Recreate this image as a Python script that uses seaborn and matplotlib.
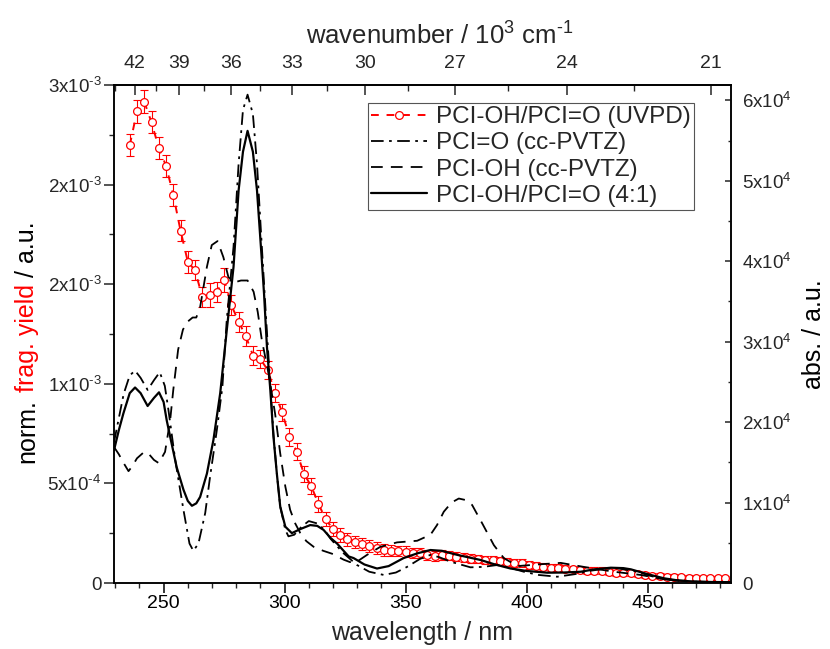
import numpy as np
import pandas as pd
import matplotlib
matplotlib.use("Agg")
import matplotlib.pyplot as plt
import seaborn as sns
from matplotlib.ticker import FixedLocator, MultipleLocator

# ---------------- data ----------------
wl_uvpd = [236, 239, 242, 245, 248, 251, 254, 257, 260, 263,
           266, 269, 272, 275, 278, 281, 284, 287, 290, 293,
           296, 299, 302, 305, 308, 311, 314, 317, 320, 323,
           326, 329, 332, 335, 338, 341, 344, 347, 350, 353,
           356, 359, 362, 365, 368, 371, 374, 377, 380, 383,
           386, 389, 392, 395, 398, 401, 404, 407, 410, 413,
           416, 419, 422, 425, 428, 431, 434, 437, 440, 443,
           446, 449, 452, 455, 458, 461, 464, 467, 470, 473,
           476, 479, 482]
yield_uvpd = [2.197, 2.368, 2.416, 2.313, 2.184, 2.095, 1.948, 1.769, 1.613, 1.569,
              1.436, 1.446, 1.462, 1.523, 1.395, 1.312, 1.238, 1.141, 1.124, 1.070,
              0.956, 0.856, 0.735, 0.660, 0.548, 0.487, 0.397, 0.320, 0.270, 0.241,
              0.220, 0.208, 0.196, 0.186, 0.174, 0.166, 0.162, 0.161, 0.157, 0.152,
              0.149, 0.141, 0.137, 0.141, 0.137, 0.132, 0.127, 0.121, 0.121, 0.116,
              0.116, 0.112, 0.107, 0.102, 0.099, 0.090, 0.087, 0.082, 0.077, 0.077,
              0.072, 0.070, 0.065, 0.062, 0.062, 0.062, 0.057, 0.052, 0.052, 0.049,
              0.045, 0.040, 0.037, 0.035, 0.032, 0.032, 0.029, 0.027, 0.025, 0.024,
              0.024, 0.024, 0.024]  # x 1e-3
yield_err = [0.055, 0.058, 0.058, 0.055, 0.055, 0.055, 0.055, 0.052, 0.055, 0.050,
             0.050, 0.060, 0.050, 0.060, 0.050, 0.050, 0.050, 0.048, 0.045, 0.045,
             0.045, 0.045, 0.045, 0.045, 0.040, 0.040, 0.040, 0.035, 0.035, 0.035,
             0.033, 0.030, 0.030, 0.030, 0.030, 0.028, 0.028, 0.027, 0.027, 0.025,
             0.025, 0.025, 0.025, 0.025, 0.024, 0.024, 0.023, 0.023, 0.022, 0.022,
             0.021, 0.021, 0.020, 0.020, 0.020, 0.019, 0.019, 0.018, 0.018, 0.018,
             0.017, 0.017, 0.017, 0.016, 0.016, 0.016, 0.015, 0.015, 0.015, 0.014,
             0.014, 0.014, 0.013, 0.013, 0.013, 0.012, 0.012, 0.012, 0.011, 0.011,
             0.011, 0.010, 0.010]  # x 1e-3

wl_pcio = [229.5, 231.5, 233.5, 236.0, 238.2, 240.5, 243.4, 246.0, 248.4, 250.5,
           252.0, 254.8, 258.2, 260.7, 262.3, 264.4, 267.2, 269.2, 272.0, 274.3,
           276.1, 278.9, 281.0, 282.8, 284.7, 286.9, 288.6, 290.6, 292.4, 294.1,
           295.4, 296.8, 298.2, 300.3, 301.6, 304.0, 307.0, 310.0, 313.5, 316.5,
           319.0, 324.0, 329.9, 335.0, 341.0, 346.0, 350.6, 356.0, 360.3, 364.0,
           368.6, 376.8, 382.0, 388.0, 393.0, 398.9, 405.0, 412.7, 420.0, 426.5,
           432.0, 437.6, 445.8, 451.0, 456.9, 463.0, 470.7, 484.5]
abs_pcio = [1.75, 2.05, 2.35, 2.58, 2.64, 2.55, 2.40, 2.52, 2.62, 2.45,
            2.15, 1.53, 0.91, 0.49, 0.40, 0.49, 0.87, 1.32, 1.90, 2.44,
            3.27, 4.18, 5.21, 5.88, 6.07, 5.83, 5.21, 4.18, 3.27, 2.45,
            1.85, 1.36, 0.95, 0.66, 0.58, 0.60, 0.70, 0.77, 0.74, 0.66,
            0.55, 0.38, 0.224, 0.14, 0.10, 0.13, 0.20, 0.30, 0.35, 0.32,
            0.265, 0.195, 0.20, 0.224, 0.19, 0.14, 0.10, 0.078, 0.11, 0.153,
            0.175, 0.183, 0.14, 0.09, 0.046, 0.025, 0.016, 0.01]  # x 1e4

wl_pcioh = [229.5, 231.5, 233.5, 235.5, 237.0, 239.0, 242.0, 244.0, 246.0, 248.0,
            250.6, 252.7, 254.0, 256.0, 258.0, 260.0, 262.0, 263.5, 265.1, 267.9,
            269.9, 272.3, 274.7, 276.8, 279.6, 282.0, 284.7, 287.2, 288.9, 290.6,
            293.4, 296.1, 298.2, 300.3, 302.3, 304.4, 306.5, 309.0, 312.0, 316.0,
            320.0, 324.4, 327.0, 329.9, 334.1, 339.6, 346.5, 354.8, 360.3, 363.0,
            365.8, 369.0, 372.0, 375.0, 377.5, 381.7, 386.5, 390.6, 396.2, 404.4,
            414.1, 423.7, 436.1, 447.2, 456.9, 470.7, 484.5]
abs_pcioh = [1.69, 1.60, 1.49, 1.39, 1.45, 1.55, 1.63, 1.60, 1.53, 1.49,
             1.63, 2.02, 2.40, 2.90, 3.15, 3.25, 3.30, 3.30, 3.43, 3.93,
             4.20, 4.25, 4.05, 3.80, 3.74, 3.76, 3.76, 3.62, 3.37, 3.02,
             2.60, 2.10, 1.61, 1.20, 0.91, 0.74, 0.62, 0.52, 0.45, 0.40,
             0.36, 0.29, 0.26, 0.265, 0.35, 0.45, 0.505, 0.525, 0.60, 0.72,
             0.886, 1.00, 1.05, 1.03, 0.97, 0.74, 0.47, 0.31, 0.21, 0.23,
             0.25, 0.20, 0.14, 0.10, 0.046, 0.016, 0.01]  # x 1e4

wl_mix = [229.5, 231.5, 233.4, 236.0, 238.2, 240.5, 243.4, 246.0, 248.1, 250.0,
          251.3, 252.7, 255.4, 258.2, 260.0, 261.7, 263.5, 265.1, 267.9, 270.6,
          273.4, 276.1, 278.9, 281.0, 282.8, 284.7, 286.9, 288.6, 290.6, 291.5,
          292.7, 294.1, 295.4, 296.8, 298.2, 300.3, 303.0, 306.5, 310.6, 313.5,
          316.1, 319.0, 321.7, 326.5, 328.5, 333.0, 338.2, 343.0, 349.2, 355.0,
          360.3, 365.0, 371.3, 381.0, 387.0, 393.4, 400.0, 408.6, 415.0, 422.4,
          428.0, 434.8, 440.0, 443.1, 450.0, 456.9, 463.0, 470.7, 477.0, 484.5]
abs_mix = [1.65, 1.90, 2.11, 2.36, 2.43, 2.36, 2.20, 2.30, 2.37, 2.25,
           2.02, 1.82, 1.44, 1.16, 1.02, 0.96, 0.99, 1.07, 1.36, 1.78,
           2.36, 3.14, 3.93, 4.88, 5.36, 5.62, 5.36, 4.88, 4.01, 3.60,
           2.94, 2.40, 1.82, 1.36, 0.95, 0.70, 0.62, 0.67, 0.72, 0.71,
           0.66, 0.56, 0.49, 0.33, 0.31, 0.23, 0.18, 0.21, 0.31, 0.37,
           0.41, 0.40, 0.35, 0.286, 0.23, 0.18, 0.15, 0.128, 0.13, 0.14,
           0.17, 0.19, 0.185, 0.17, 0.11, 0.058, 0.03, 0.016, 0.012, 0.01]  # x 1e4

series_labels = ["PCI-OH/PCI=O (UVPD)", "PCI=O (cc-PVTZ)", "PCI-OH (cc-PVTZ)", "PCI-OH/PCI=O (4:1)"]

bottom_ticks = [250, 300, 350, 400, 450]
top_ticks = [42, 39, 36, 33, 30, 27, 24, 21]
top_minor = [43.5, 40.5, 37.5, 34.5, 31.5, 28.5, 25.5, 22.5]
left_ticks = [0, 0.5e-3, 1.0e-3, 1.5e-3, 2.0e-3, 2.5e-3]
left_labels = ["0", "5x10$^{\u2010 4}$", "1x10$^{\u20103}$", "2x10$^{\u20103}$",
               "2x10$^{\u20103}$", "3x10$^{\u20103}$"]
right_ticks = [0, 1e4, 2e4, 3e4, 4e4, 5e4, 6e4]
right_labels = ["0", "1x10$^{4}$", "2x10$^{4}$", "3x10$^{4}$", "4x10$^{4}$", "5x10$^{4}$", "6x10$^{4}$"]

# ---------------- style ----------------
sns.set_theme(style="ticks")
plt.rcParams["font.family"] = ["Liberation Sans", "DejaVu Sans"]
plt.rcParams["mathtext.fontset"] = "custom"
plt.rcParams["mathtext.rm"] = "Liberation Sans"
plt.rcParams["mathtext.it"] = "Liberation Sans:italic"
plt.rcParams["mathtext.bf"] = "Liberation Sans:bold"
plt.rcParams["mathtext.default"] = "regular"
plt.rcParams["axes.linewidth"] = 1.1

RED = "#ff0000"
W, H = 830, 649
fig = plt.figure(figsize=(W / 100, H / 100), dpi=100)
ax = fig.add_axes([114 / W, 1 - 583 / H, (731 - 114) / W, (583 - 85) / H])
ax2 = ax.twinx()

# ---------------- red UVPD data ----------------
df_uv = pd.DataFrame({"wl": wl_uvpd,
                      "y": np.array(yield_uvpd) * 1e-3,
                      "err": np.array(yield_err) * 1e-3})
ax.errorbar(df_uv["wl"], df_uv["y"], yerr=df_uv["err"], fmt="none", ecolor=RED,
            elinewidth=0.8, capsize=3.2, capthick=0.8, zorder=2)
sns.lineplot(data=df_uv, x="wl", y="y", ax=ax, color=RED, lw=1.4,
             linestyle=(0, (4, 4)), marker="o", markersize=5.6,
             markerfacecolor="white", markeredgecolor=RED, markeredgewidth=0.9,
             legend=False, zorder=3, sort=False)
h_uv = ax.lines[-1]

# ---------------- black theory curves ----------------
df_o = pd.DataFrame({"wl": wl_pcio, "a": np.array(abs_pcio) * 1e4})
df_oh = pd.DataFrame({"wl": wl_pcioh, "a": np.array(abs_pcioh) * 1e4})
df_mix = pd.DataFrame({"wl": wl_mix, "a": np.array(abs_mix) * 1e4})
sns.lineplot(data=df_o, x="wl", y="a", ax=ax2, color="black", lw=1.3,
             linestyle=(0, (7, 3, 1.5, 3)), legend=False, sort=False)
h_o = ax2.lines[-1]
sns.lineplot(data=df_oh, x="wl", y="a", ax=ax2, color="black", lw=1.3,
             linestyle=(0, (6.5, 4.5)), legend=False, sort=False)
h_oh = ax2.lines[-1]
sns.lineplot(data=df_mix, x="wl", y="a", ax=ax2, color="black", lw=1.6,
             linestyle="-", legend=False, sort=False)
h_mix = ax2.lines[-1]

# ---------------- axes ----------------
ax.set_xlim(229.5, 484.5)
ax.set_ylim(0, 2.5e-3)
ax2.set_ylim(0, 6.19e4)

ax.xaxis.set_major_locator(FixedLocator(bottom_ticks))
ax.xaxis.set_minor_locator(MultipleLocator(10))
ax.set_xticklabels([str(t) for t in bottom_ticks])
ax.yaxis.set_major_locator(FixedLocator(left_ticks))
ax.set_yticklabels(left_labels)
ax.yaxis.set_minor_locator(MultipleLocator(0.25e-3))
ax2.yaxis.set_major_locator(FixedLocator(right_ticks))
ax2.set_yticklabels(right_labels)
ax2.yaxis.set_minor_locator(MultipleLocator(0.5e4))

ax.tick_params(axis="x", which="major", direction="out", length=7, width=1.1,
               labelsize=14, pad=2, top=False, colors="black")
ax.tick_params(axis="x", which="minor", direction="out", length=3.5, width=1.0, top=False)
ax.tick_params(axis="y", which="major", direction="out", length=7, width=1.1,
               labelsize=13.5, pad=2, right=False)
ax.tick_params(axis="y", which="minor", direction="out", length=3.5, width=1.0, right=False)
ax2.tick_params(axis="y", which="major", direction="in", length=4.5, width=1.1,
                labelsize=13.5, pad=8)
ax2.tick_params(axis="y", which="minor", direction="in", length=2.5, width=1.0)

def _inv(x):
    x = np.asarray(x, dtype=float)
    with np.errstate(divide="ignore"):
        return 1e4 / x

sec = ax.secondary_xaxis("top", functions=(_inv, _inv))
sec.xaxis.set_major_locator(FixedLocator(top_ticks))
sec.xaxis.set_minor_locator(FixedLocator(top_minor))
sec.set_xticklabels([str(t) for t in top_ticks])
sec.tick_params(axis="x", which="major", direction="in", length=7, width=1.1,
                labelsize=14, pad=9)
sec.tick_params(axis="x", which="minor", direction="in", length=4, width=1.0)
sec.set_xlabel("wavenumber / 10$^{3}$ cm$^{\u20101}$", fontsize=18.5, labelpad=8)
sec.xaxis.label.set_x((440 - 114) / 617)

ax.set_xlabel("wavelength / nm", fontsize=18, labelpad=6)
ax.set_ylabel("")
ax2.set_ylabel("")

for a in (ax, ax2):
    for s in a.spines.values():
        s.set_color("black")
        s.set_linewidth(1.1)
        s.set_visible(True)
ax.grid(False)
ax2.grid(False)

# ---------------- y labels ----------------
mid = fig.text(27 / W, 1 - 338 / H, "frag. yield", rotation=90, color=RED,
               fontsize=18, ha="center", va="center")
ax.annotate("norm.", xy=(0.5, 0), xycoords=mid, xytext=(0, -5), textcoords="offset points",
            rotation=90, ha="center", va="top", fontsize=18, color="black",
            annotation_clip=False)
ax.annotate("/ a.u.", xy=(0.5, 1), xycoords=mid, xytext=(0, 5), textcoords="offset points",
            rotation=90, ha="center", va="bottom", fontsize=18, color="black",
            annotation_clip=False)
fig.text(814 / W, 1 - 334 / H, "abs. / a.u.", rotation=90, fontsize=18,
         ha="center", va="center", color="black")

# ---------------- legend ----------------
for a in (ax, ax2):
    if a.get_legend() is not None:
        a.get_legend().remove()
leg = ax2.legend([h_uv, h_o, h_oh, h_mix], series_labels, loc="upper right",
                 bbox_to_anchor=(0.940, 0.9645), borderaxespad=0, frameon=True,
                 fancybox=False, edgecolor="#555555", framealpha=1, fontsize=17.5,
                 handlelength=2.3, handletextpad=0.35, labelspacing=0.17,
                 borderpad=0.15, numpoints=1)
leg.get_frame().set_linewidth(0.8)

fig.savefig("out.png", dpi=100)
